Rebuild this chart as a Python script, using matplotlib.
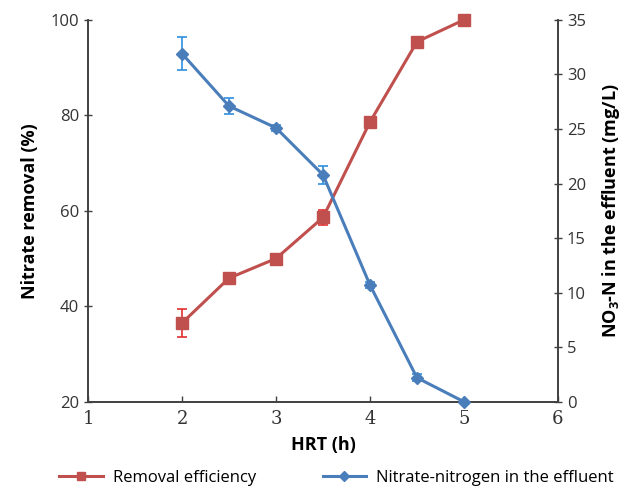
import matplotlib
matplotlib.use("Agg")
import matplotlib.pyplot as plt

hrt = [2, 2.5, 3, 3.5, 4, 4.5, 5]
removal = [36.5, 45.9, 50.0, 58.6, 78.6, 95.4, 100.0]
removal_err = [3.0, 1.0, 0.5, 1.5, 0.4, 0.5, 0.2]
nitrate = [31.9, 27.1, 25.1, 20.8, 10.7, 2.2, 0.0]
nitrate_err = [1.5, 0.7, 0.3, 0.8, 0.3, 0.3, 0.05]

x_ticks = [1, 2, 3, 4, 5, 6]
left_ticks = [20, 40, 60, 80, 100]
right_ticks = [0, 5, 10, 15, 20, 25, 30, 35]

red = "#c0504d"
blue = "#4a7ebb"
fam = ["Open Sans", "DejaVu Sans"]

fig = plt.figure(figsize=(6.29, 4.96), dpi=100)
ax = fig.add_axes([0.140, 0.190, 0.747, 0.770])
ax2 = ax.twinx()

l1 = ax.errorbar(hrt, removal, yerr=removal_err, color=red, ecolor="#e03030",
                 marker="s", markersize=8, linewidth=2.2, capsize=3.5,
                 elinewidth=1.2, capthick=1.2, label="Removal efficiency",
                 zorder=3, clip_on=False)
l2 = ax2.errorbar(hrt, nitrate, yerr=nitrate_err, color=blue, ecolor="#2f8fe0",
                  marker="D", markersize=6.5, linewidth=2.2, capsize=3.5,
                  elinewidth=1.2, capthick=1.2,
                  label="Nitrate-nitrogen in the effluent", zorder=3,
                  clip_on=False)

ax.set_xlim(1, 6)
ax.set_ylim(20, 100)
ax2.set_ylim(0, 35)
ax.set_xticks(x_ticks)
ax.set_yticks(left_ticks)
ax2.set_yticks(right_ticks)

for a in (ax, ax2):
    a.spines["top"].set_visible(False)
    for s in a.spines.values():
        s.set_color("#404040")
        s.set_linewidth(1.2)

ax.tick_params(axis="y", direction="inout", length=6, width=1, colors="#404040",
               labelsize=12, labelcolor="#333333")
ax2.tick_params(axis="y", direction="inout", length=6, width=1, colors="#404040",
                labelsize=12, labelcolor="#333333")
ax.tick_params(axis="x", direction="in", length=4, width=1, colors="#404040",
               labelsize=13, labelcolor="#333333", pad=6)
for lab in ax.get_yticklabels() + ax2.get_yticklabels():
    lab.set_family(fam)
for lab in ax.get_xticklabels():
    lab.set_family(["DejaVu Serif"])

ax.set_xlabel("HRT (h)", fontsize=13, fontweight="bold", family=fam, labelpad=6)
ax.set_ylabel("Nitrate removal (%)", fontsize=13, fontweight="bold", family=fam,
              labelpad=8)
ax2.set_ylabel(r"NO$_\mathregular{3}$-N in the effluent (mg/L)", fontsize=13,
               fontweight="bold", family=fam, labelpad=10)

leg = fig.legend([l1[0], l2[0]],
                 ["Removal efficiency", "Nitrate-nitrogen in the effluent"],
                 loc="lower center", bbox_to_anchor=(0.535, -0.01), ncol=2,
                 frameon=False, prop={"family": fam, "size": 12},
                 handlelength=2.6, columnspacing=4.0, handletextpad=0.6,
                 markerscale=0.8)

fig.savefig("out.png", dpi=100)
